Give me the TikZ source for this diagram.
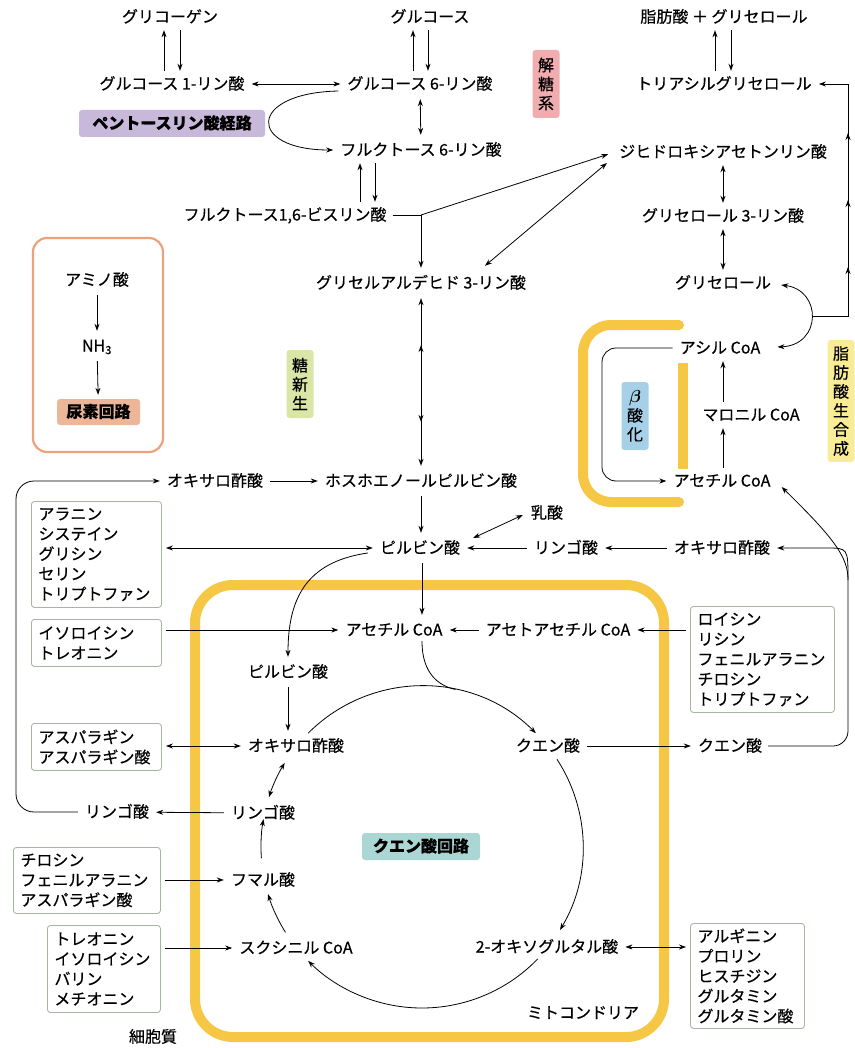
\documentclass[tikz,border=0pt]{standalone}
\usepackage{fontspec}
\usepackage{amsmath}
\setmainfont{Noto Sans CJK JP}[FakeBold=0.5]
\usetikzlibrary{arrows.meta,calc,decorations.markings}
\definecolor{cpink}{RGB}{241,172,175}
\definecolor{cpurp}{RGB}{200,185,218}
\definecolor{cgreen}{RGB}{218,230,166}
\definecolor{cblue}{RGB}{166,208,232}
\definecolor{cyell}{RGB}{248,236,150}
\definecolor{csalm}{RGB}{238,182,152}
\definecolor{cteal}{RGB}{170,214,212}
\definecolor{mitoY}{RGB}{246,199,68}
\definecolor{orbord}{RGB}{236,162,122}
\definecolor{aabord}{RGB}{165,183,160}
\newcommand\myfs{\fontsize{16}{19}\selectfont}
\newcommand\myfsb{\fontsize{16}{20}\selectfont}
\begin{document}
\begin{tikzpicture}[x=1pt,y=-1pt,
  >={Stealth[length=7pt,width=5pt]},
  lbl/.style={inner sep=3pt, font=\myfs, text height=13.5pt, text depth=2.5pt},
  lblbox/.style={rounded corners=3pt, inner sep=0pt, font=\bfseries\myfs, text height=13.5pt, text depth=2.5pt},
  vlab/.style={rounded corners=3pt, align=center, inner xsep=5pt, inner ysep=6pt, font=\myfs, minimum width=27, minimum height=68},
  aab/.style={draw=aabord, line width=0.9pt, rounded corners=3pt, align=left, inner xsep=7pt, inner ysep=3pt, font=\myfsb, anchor=north west},
  ln/.style={line width=0.8pt, shorten <=3pt},
  arr/.style={->, line width=0.8pt, shorten >=4pt, shorten <=4pt},
  darr/.style={<->, line width=0.8pt, shorten >=4pt, shorten <=4pt},
  arrc/.style={->, line width=0.8pt},
  darrc/.style={<->, line width=0.8pt},
  yel/.style={draw=mitoY, line width=10pt}]
\useasboundingbox (0,0) rectangle (854,1048);

% ---- yellow membranes and frames ----
\draw[yel, rounded corners=38] (195,585) rectangle (664,1037);
\draw[yel, line cap=round, rounded corners=28] (679,325) -- (583,325) -- (583,502) -- (679,502);
\draw[yel] (683,363) -- (683,469);
\draw[draw=orbord, line width=2.2pt, rounded corners=14] (33,238) rectangle (163,452);

% ---- nodes ----
\node[lbl] (gly) at (170,17) {グリコーゲン};
\node[lbl] (glc) at (430,17) {グルコース};
\node[lbl] (fa) at (724,17) {脂肪酸 ＋ グリセロール};
\node[lbl] (g1p) at (172,84) {グルコース 1-リン酸};
\node[lbl] (g6p) at (420,84) {グルコース 6-リン酸};
\node[lbl] (tag) at (724,84) {トリアシルグリセロール};
\node[vlab, fill=cpink] (glyco) at (546,84) {解\\糖\\系};
\node[lblbox, fill=cpurp, minimum width=186, minimum height=27] (ppp) at (172,123.5) {ペントースリン酸経路};
\node[lbl] (f6p) at (421,150) {フルクトース 6-リン酸};
\node[lbl] (f16) at (285,215) {フルクトース1,6-ビスリン酸};
\node[lbl] (dhap) at (723,152) {ジヒドロキシアセトンリン酸};
\node[lbl] (gro3p) at (723,216) {グリセロール 3-リン酸};
\node[lbl] (gro) at (723,283) {グリセロール};
\node[lbl] (gap) at (421,283) {グリセルアルデヒド 3-リン酸};
\node[lbl] (aa) at (97,280) {アミノ酸};
\node[lbl] (nh3) at (97,346) {NH\textsubscript{3}};
\node[lblbox, fill=csalm, minimum width=83, minimum height=26] (urea) at (98.5,412) {尿素回路};
\node[vlab, fill=cgreen] (gng) at (300,384) {糖\\新\\生};
\node[lbl] (acyl) at (720,348) {アシル CoA};
\node[lbl] (mal) at (751,415) {マロニル CoA};
\node[lbl] (acetR) at (722,481) {アセチル CoA};
\node[vlab, fill=cblue] (beta) at (635,416) {$\boldsymbol{\beta}$\\酸\\化};
\node[vlab, fill=cyell, minimum height=118] (fas) at (841,401) {脂\\肪\\酸\\生\\合\\成};
\node[lbl] (oaaL) at (215,481) {オキサロ酢酸};
\node[lbl] (pep) at (421,481) {ホスホエノールピルビン酸};
\node[lbl] (pyr) at (420,548) {ピルビン酸};
\node[lbl] (lac) at (547,513) {乳酸};
\node[lbl] (malM) at (566,548) {リンゴ酸};
\node[lbl] (oaaR) at (722,548) {オキサロ酢酸};
\node[aab, minimum width=130, minimum height=106, text width=116] (box1) at (31,501) {アラニン\\システイン\\グリシン\\セリン\\トリプトファン};
\node[aab, minimum width=130, minimum height=47, text width=116] (box2) at (31,619) {イソロイシン\\トレオニン};
\node[lbl] (acetC) at (394,630) {アセチル CoA};
\node[lbl] (acac) at (558,630) {アセトアセチル CoA};
\node[aab, minimum width=144, minimum height=106, text width=130] (box3) at (690,606) {ロイシン\\リシン\\フェニルアラニン\\チロシン\\トリプトファン};
\node[lbl] (pyrL) at (288,672) {ピルビン酸};
\node[lbl] (oaaM) at (296,746) {オキサロ酢酸};
\node[aab, minimum width=130, minimum height=47, text width=116] (box4) at (31,723) {アスパラギン\\アスパラギン酸};
\node[lbl] (citL) at (548,746) {クエン酸};
\node[lbl] (citR) at (730,746) {クエン酸};
\node[lbl] (malMi) at (263,813) {リンゴ酸};
\node[lbl] (malO) at (117,812) {リンゴ酸};
\node[lblbox, fill=cteal, minimum width=118, minimum height=27] (tca) at (421,846.5) {クエン酸回路};
\node[lbl] (fum) at (263,880) {フマル酸};
\node[aab, minimum width=147, minimum height=66, text width=133] (box5) at (13,847) {チロシン\\フェニルアラニン\\アスパラギン酸};
\node[lbl] (succ) at (296,948) {スクシニル CoA};
\node[lbl] (og) at (547,947) {2-オキソグルタル酸};
\node[aab, minimum width=113, minimum height=87, text width=99] (box6) at (47,925) {トレオニン\\イソロイシン\\バリン\\メチオニン};
\node[aab, minimum width=114, minimum height=105, text width=100] (box7) at (690,923) {アルギニン\\プロリン\\ヒスチジン\\グルタミン\\グルタミン酸};
\node[lbl] (mito) at (583,1013) {ミトコンドリア};
\node[lbl] (cyto) at (153,1037) {細胞質};

% ---- coordinates ----
\coordinate (j1) at (421,215);
\coordinate (j2) at (812,316);
\coordinate (r1) at (848,316);
\coordinate (r2) at (848,84);
\coordinate (b1) at (602,348);
\coordinate (b2) at (602,481);
\coordinate (j3) at (848,580);
\coordinate (c) at (422,847);

% ---- urea cycle box ----
\draw[arr] (aa) -- (nh3);
\draw[arr] (nh3) -- (urea);

% ---- top pairs ----
\draw[arr, shorten <=2pt, shorten >=2pt] ($(g1p.north)+(-8,0)$) -- ($(gly.south)+(-6,0)$);
\draw[arr, shorten <=2pt, shorten >=2pt] ($(gly.south)+(10,0)$) -- ($(g1p.north)+(8,0)$);
\draw[arr, shorten <=2pt, shorten >=2pt] ($(g6p.north)+(-7,0)$) -- ($(glc.south)+(-17,0)$);
\draw[arr, shorten <=2pt, shorten >=2pt] ($(glc.south)+(-2,0)$) -- ($(g6p.north)+(8,0)$);
\draw[arr, shorten <=2pt, shorten >=2pt] ($(tag.north)+(-9,0)$) -- ($(fa.south)+(-9,0)$);
\draw[arr, shorten <=2pt, shorten >=2pt] ($(fa.south)+(7,0)$) -- ($(tag.north)+(7,0)$);

\draw[darr] (g1p) -- (g6p);
\draw[arr, shorten <=0pt] ($(g6p.west)+(-6,7)$) .. controls (247,93) and (247,150) .. (f6p.west);
\draw[darr] (g6p) -- (f6p);
\draw[arr, shorten <=2pt, shorten >=2pt] ($(f16.north)+(75,0)$) -- ($(f6p.south)+(-61,0)$);
\draw[arr, shorten <=2pt, shorten >=2pt] ($(f6p.south)+(-46,0)$) -- ($(f16.north)+(90,0)$);
\draw[ln] (f16.east) -- (j1);
\draw[arr, shorten <=0pt] (j1) -- (gap.north);
\draw[arr, shorten <=0pt] (j1) -- ($(dhap.west)+(-4,1)$);
\draw[darrc] ($(gap.north)+(64,-6)$) -- ($(dhap.west)+(-9,11)$);

\draw[darr, shorten <=2pt, shorten >=2pt] (dhap) -- (gro3p);
\draw[darr, shorten <=2pt, shorten >=2pt] (gro3p) -- (gro);
\draw[darrc] ($(gro.east)+(7,2)$) .. controls (822,290) and (822,345) .. ($(acyl.east)+(14,-1)$);
\draw[arr, shorten <=0pt, postaction={decorate}, decoration={markings,
   mark=at position 85pt with {\arrow{>}},
   mark=at position 152pt with {\arrow{>}},
   mark=at position 219pt with {\arrow{>}}}]
   (j2) -- (r1) -- (r2) -- (tag.east);

% ---- beta oxidation / fatty acid synthesis ----
\draw[arr, rounded corners=14] (acyl.west) -- (b1) -- (b2) -- (acetR.west);
\draw[arr, shorten <=2pt, shorten >=2pt] ($(acetR.north)+(1,0)$) -- ($(mal.south)+(-28,0)$);
\draw[arr, shorten <=2pt, shorten >=2pt] ($(mal.north)+(-28,0)$) -- ($(acyl.south)+(3,0)$);

% ---- glycolysis / gluconeogenesis trunk ----
\draw[darr, postaction={decorate}, decoration={markings,
   mark=at position 0.29 with {\arrowreversed{>}},
   mark=at position 0.727 with {\arrow{>}}}] (gap.south) -- (pep.north);
\draw[arr] (oaaL) -- (pep);
\draw[arr, rounded corners=18] (malO.west) -- (16,812) -- (16,481) -- (oaaL.west);
\draw[arr] (pep.south) -- (pep.south |- pyr.north);
\draw[darr] (box1.east |- pyr.west) -- (pyr.west);
\draw[darrc] ($(pyr.east)+(10,-10)$) -- ($(lac.west)+(-5,2)$);
\draw[arr] (malM) -- (pyr);
\draw[arr] (oaaR) -- (malM);
\draw[ln, rounded corners=15] (citR.east) -- (848,746) -- (j3);
\draw[arr, shorten <=0pt] (j3) .. controls (848,548) .. (826,548) -- (oaaR.east);
\draw[arrc] (j3) .. controls (848,558) and (836,540) .. ($(acetR.east)+(8,6)$);

% ---- pyruvate to mitochondria ----
\draw[arr] ($(pyr.south)+(2,0)$) -- ($(acetC.north)+(28,0)$);
\draw[arr] (box2.east |- acetC.west) -- (acetC.west);
\draw[arr] (acac) -- (acetC);
\draw[arr] (box3.west |- acac.east) -- (acac.east);
\draw[arr, shorten <=0pt] ($(pyr.west)+(-9,5)$) .. controls (305,562) and (288,600) .. (pyrL.north);
\draw[arr] (pyrL.south) -- (pyrL.south |- oaaM.north);
\draw[darr] (box4.east |- oaaM.west) -- (oaaM.west);

% ---- citric acid cycle ----
\draw[arrc] ($(c)+(-135:161)$) arc[start angle=-135, end angle=-45, radius=161];
\draw[line width=0.8pt] ($(acetC.south)+(28,0)$) .. controls (422,675) and (440,686) .. ($(c)+(-78:161)$);
\draw[arrc] ($(c)+(-33:161)$) arc[start angle=-33, end angle=31, radius=161];
\draw[arrc] ($(c)+(44:161)$) arc[start angle=44, end angle=135, radius=161];
\draw[arrc] ($(c)+(148:161)$) arc[start angle=148, end angle=163, radius=161];
\draw[arrc] ($(c)+(176:161)$) arc[start angle=176, end angle=190, radius=161];
\draw[darrc] ($(c)+(198:161)$) arc[start angle=198, end angle=211.5, radius=161];

\draw[arr] (citL) -- (citR);
\draw[arr] (malMi) -- (malO);
\draw[arr] (box5.east |- fum.west) -- (fum.west);
\draw[arr] (box6.east |- succ.west) -- (succ.west);
\draw[darr] (og.east) -- (box7.west |- og.east);
\end{tikzpicture}
\end{document}
